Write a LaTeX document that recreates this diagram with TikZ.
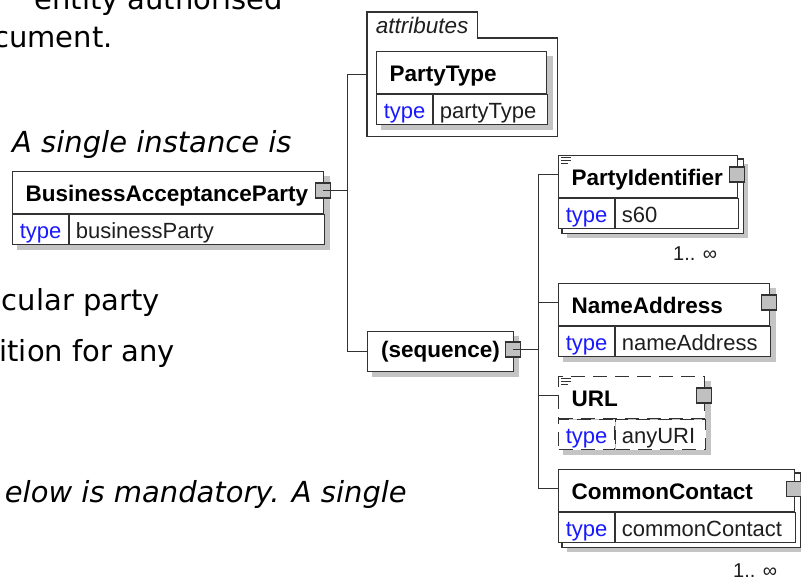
\documentclass[tikz,border=0pt]{standalone}
\usepackage{fontspec}
\setmainfont{Liberation Sans}
\newfontfamily\bodyfont{DejaVu Sans}
\usetikzlibrary{positioning,calc,backgrounds}
\definecolor{boxline}{RGB}{50,50,50}
\definecolor{typeblue}{RGB}{25,25,255}
\definecolor{shadowgray}{RGB}{196,196,196}
\definecolor{handlegray}{RGB}{192,192,192}
\definecolor{textgray}{RGB}{30,30,30}

\begin{document}
\begin{tikzpicture}[x=1pt, y=-1pt,
        elemhead/.style={rectangle, draw=boxline, line width=1.2pt, fill=white, anchor=north west, inner xsep=13pt, inner ysep=0pt, minimum height=42pt, text height=21pt, text depth=3pt, align=left, font=\fontsize{22.5}{22.5}\selectfont\bfseries},
        typekey/.style={rectangle, draw=boxline, line width=1.2pt, fill=white, anchor=north west, inner sep=0pt, minimum width=56pt, minimum height=30pt, text height=18pt, text depth=0pt, text=typeblue, font=\fontsize{22}{22}\selectfont},
        typeval/.style={rectangle, draw=boxline, line width=1.2pt, fill=white, anchor=north west, inner xsep=6pt, inner ysep=0pt, minimum height=30pt, text height=18pt, text depth=0pt, align=left, text=textgray, font=\fontsize{22}{22}\selectfont},
        optional/.style={dash pattern=on 14pt off 8pt},
        handle/.style={rectangle, draw=boxline, line width=1.2pt, fill=handlegray, minimum size=15pt, inner sep=0pt},
        conn/.style={draw=boxline, line width=1.2pt},
        occurs/.style={font=\fontsize{20}{20}\selectfont, text=textgray, inner sep=0pt, anchor=base west},
        bodytext/.style={font=\bodyfont\fontsize{29}{29}\selectfont, inner sep=0pt},
        bodyit/.style={font=\bodyfont\fontsize{29}{29}\selectfont\itshape, inner sep=0pt}
    ]
        \useasboundingbox (0,0) rectangle (801,577);

        % Surrounding document text
        \node[bodytext, anchor=base east] (line1) at (283,10) {entity authorised};
        \node[bodytext, anchor=base east] (line2) at (113,48) {cument.};
        \node[bodyit, anchor=base west] (line3) at (12,153) {A single instance is};
        \node[bodytext, anchor=base east] (line4) at (160,311) {cular party};
        \node[bodytext, anchor=base east] (line5) at (175,362) {ition for any};
        \node[bodyit, anchor=base east] (line6) at (407,502) {elow is mandatory. A single};

        % Root element
        \node[elemhead, text width=285pt] (bap) at (12,171) {BusinessAcceptanceParty};
        \node[typekey] (bapk) at (bap.south west) {type};
        \node[typeval, text width=243pt] (bapv) at (bapk.north east) {businessParty};
        \node[handle] (baph) at ([xshift=-1pt,yshift=2pt]bap.east) {};

        % Attributes group
        \node[inner sep=0pt, minimum width=110pt, minimum height=26pt, anchor=north west, text=textgray, font=\fontsize{22.5}{22.5}\selectfont\itshape] (attrtab) at (367,12) {attributes};
        \node[inner sep=0pt, minimum width=190pt, minimum height=98pt, anchor=north west] (attrgrp) at (367,38) {};
        \draw[conn] (attrgrp.south west) |- (attrtab.north east) |- (attrgrp.north east) -- (attrgrp.south east) -- cycle;
        \node[elemhead, text width=144pt] (pt) at (376,51) {PartyType};
        \node[typekey] (ptk) at (pt.south west) {type};
        \node[typeval, text width=102pt] (ptv) at (ptk.north east) {partyType};

        % Sequence
        \node[rectangle, draw=boxline, line width=1.2pt, fill=white, anchor=north west, inner sep=0pt, minimum width=146pt, minimum height=40pt, font=\fontsize{22.5}{22.5}\selectfont\bfseries] (seq) at (367,331) {(sequence)};
        \node[handle] (seqh) at ([xshift=-1pt,yshift=2pt]seq.east) {};

        % Child elements
        \node[elemhead, text width=153pt] (pid) at (558,155) {PartyIdentifier};
        \node[typekey] (pidk) at (pid.south west) {type};
        \node[typeval, text width=111pt] (pidv) at (pidk.north east) {s60};
        \node[handle] (pidh) at ([xshift=-1pt,yshift=2pt]pid.east) {};
        \node[occurs] (pidocc) at (673,261) {1.. ∞};

        \node[elemhead, text width=185pt] (na) at (558,283) {NameAddress};
        \node[typekey] (nak) at (na.south west) {type};
        \node[typeval, text width=143pt] (nav) at (nak.north east) {nameAddress};
        \node[handle] (nah) at ([xshift=-1pt,yshift=2pt]na.east) {};

        \node[elemhead, optional, text width=120pt] (url) at (558,376) {URL};
        \node[typekey, optional] (urlk) at (url.south west) {type};
        \node[typeval, optional, text width=78pt] (urlv) at (urlk.north east) {anyURI};
        \node[handle] (urlh) at ([xshift=-1pt,yshift=2pt]url.east) {};

        \node[elemhead, text width=210pt] (cc) at (558,469) {CommonContact};
        \node[typekey] (cck) at (cc.south west) {type};
        \node[typeval, text width=168pt] (ccv) at (cck.north east) {commonContact};
        \node[handle] (cch) at ([xshift=-1pt,yshift=2pt]cc.east) {};
        \node[occurs] (ccocc) at (733,577) {1.. ∞};

        % Documentation marks
        \foreach \el in {pid,url}
            \foreach \dy/\len in {3/10,6/10,9/7}
                \draw[boxline, line width=1pt] ($(\el.north west)+(3,\dy)$) -- ++(\len,0);

        % Connectors
        \coordinate (trunk) at ($(baph.east)+(16,0)$);
        \draw[conn] (baph.center) -- (trunk);
        \draw[conn] ([yshift=-2pt]pt.west -| attrgrp.west) -| (trunk) |- (seq.west);

        \coordinate (seqtrunk) at ($(seqh.east)+(17,0)$);
        \draw[conn] (seqh.center) -- (seqtrunk);
        \draw[conn] ([yshift=2pt]pid.west) -| (seqtrunk) |- ([yshift=2pt]cc.west);
        \draw[conn] ([yshift=2pt]na.west) -- ([yshift=2pt]na.west -| seqtrunk);
        \draw[conn] ([yshift=2pt]url.west) -- ([yshift=2pt]url.west -| seqtrunk);

        % Shadows and repeated boxes
        \begin{scope}[on background layer]
            \foreach \el in {bap,pt,na,url}
                \fill[shadowgray] ($(\el.north west)+(5,5)$) rectangle ($(\el v.south east)+(5,5)$);
            \fill[shadowgray] ($(seq.north west)+(5,5)$) rectangle ($(seq.south east)+(5,5)$);
            \foreach \el in {pid,cc} {
                \fill[shadowgray] ($(\el.north west)+(9,9)$) rectangle ($(\el v.south east)+(9,9)$);
                \draw[conn, fill=white] ($(\el.north west)+(4,4)$) rectangle ($(\el v.south east)+(4,4)$);
            }
        \end{scope}

    \end{tikzpicture}
\end{document}
